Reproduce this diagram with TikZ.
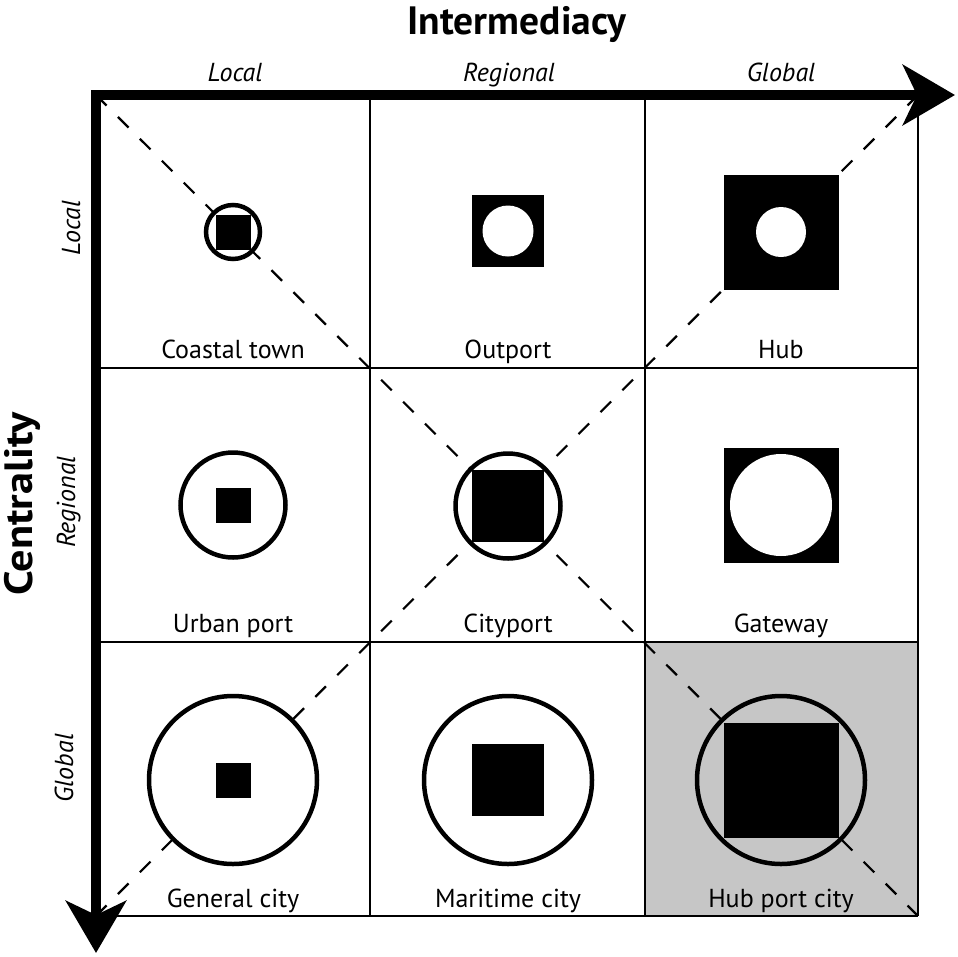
\documentclass[tikz,border=0pt]{standalone}
\usepackage{fontspec}
\setmainfont{PT Sans}
\usetikzlibrary{arrows.meta}
\begin{document}
\begin{tikzpicture}[x=1pt,y=-1pt,
  lbl/.style={font=\fontsize{26}{28}\selectfont, anchor=base, inner sep=0pt},
  axlbl/.style={font=\fontsize{26}{28}\selectfont\itshape, anchor=base, inner sep=0pt},
  ttl/.style={font=\fontsize{39.5}{42}\selectfont\bfseries, anchor=base, inner sep=0pt},
  gridline/.style={line width=2pt},
  diag/.style={line width=2.2pt, dash pattern=on 15pt off 16pt},
  ring/.style={line width=4.5pt, draw=black, fill=white},
  blk/.style={fill=black},
  hole/.style={fill=white},
  axis/.style={line width=10pt, -{Stealth[length=52pt,width=60pt,inset=14pt]}}
]
\useasboundingbox (0,0) rectangle (958,956);
% grey cell
\fill[gray!45] (645,642) rectangle (918,916);
% diagonal corner coordinates
\coordinate (tl) at (96,95);
\coordinate (br) at (918,916);
\coordinate (bl) at (96,916);
\coordinate (tr) at (918,95);
\draw[diag] (tl) -- (br);
\draw[diag] (bl) -- (tr);
% grid
\foreach \x in {370,645,918} \draw[gridline] (\x,95) -- (\x,916);
\foreach \y in {368,642,916} \draw[gridline] (96,\y) -- (918,\y);
% row 1
\draw[ring] (233,232) circle[radius=27];
\fill[blk] (215.5,214.5) rectangle (250.5,249.5);
\fill[blk] (472,195) rectangle (544,267);
\fill[hole] (508,231) circle[radius=25.5];
\fill[blk] (723.5,174.5) rectangle (838.5,289.5);
\fill[hole] (781,232) circle[radius=25];
% row 2
\draw[ring] (233,505) circle[radius=52.5];
\fill[blk] (215.5,487.5) rectangle (250.5,522.5);
\draw[ring] (508,506) circle[radius=52.5];
\fill[blk] (472,470) rectangle (544,542);
\fill[blk] (723.5,447.5) rectangle (838.5,562.5);
\fill[hole] (781,505) circle[radius=51];
% row 3
\draw[ring] (233,780) circle[radius=84];
\fill[blk] (215.5,762.5) rectangle (250.5,797.5);
\draw[ring] (508,780) circle[radius=84];
\fill[blk] (472,744) rectangle (544,816);
\draw[ring, fill=gray!45] (781,780) circle[radius=84];
\fill[blk] (723.5,722.5) rectangle (838.5,837.5);
% cell labels
\node[lbl] (coastal) at (233,358) {Coastal town};
\node[lbl] (outport) at (508,358) {Outport};
\node[lbl] (hub) at (781,358) {Hub};
\node[lbl] (urban) at (233,632) {Urban port};
\node[lbl] (cityport) at (508,632) {Cityport};
\node[lbl] (gateway) at (781,632) {Gateway};
\node[lbl] (general) at (233,907) {General city};
\node[lbl] (maritime) at (508,907) {Maritime city};
\node[lbl] (hubport) at (781,907) {Hub port city};
% axes
\draw[axis] (91,95) -- (955,95);
\draw[axis] (96,90) -- (96,953);
% axis labels
\node[ttl] (interm) at (517,34) {Intermediacy};
\node[ttl, rotate=90, font=\fontsize{39.5}{42}\selectfont\bfseries\addfontfeatures{FakeStretch=1.12}] (central) at (32,504) {Centrality};
\node[axlbl] (tlocal) at (235,81) {Local};
\node[axlbl] (tregional) at (509,81) {Regional};
\node[axlbl] (tglobal) at (781,81) {Global};
\node[axlbl, rotate=90] (llocal) at (80,228) {Local};
\node[axlbl, rotate=90] (lregional) at (75,502) {Regional};
\node[axlbl, rotate=90] (lglobal) at (73,768) {Global};
\end{tikzpicture}
\end{document}
